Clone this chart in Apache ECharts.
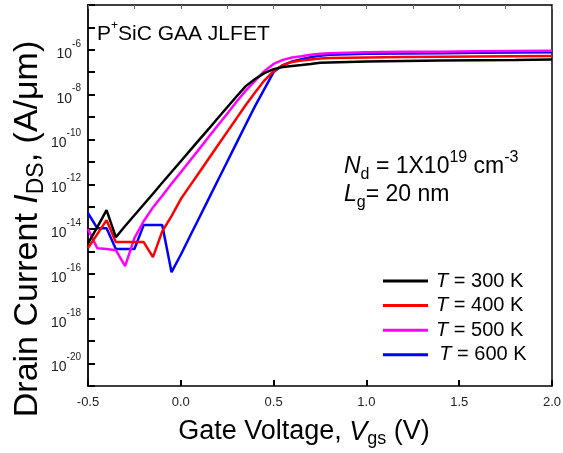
<!DOCTYPE html>
<html>
<head>
<meta charset="utf-8">
<script src="https://cdn.jsdelivr.net/npm/echarts@6/dist/echarts.min.js"></script>
<style>
  html, body { margin: 0; padding: 0; background: #fff; }
  #chart { width: 563px; height: 453px; }
</style>
</head>
<body>
<div id="chart"></div>
<script>
// Gate voltage sweep (V)
const vgs = [-0.5, -0.45, -0.4, -0.35, -0.3, -0.25, -0.2, -0.15, -0.1, -0.05,
  0, 0.05, 0.1, 0.15, 0.2, 0.25, 0.3, 0.35, 0.4, 0.45, 0.5, 0.55, 0.6, 0.65,
  0.7, 0.75, 0.8, 0.9, 1.0, 1.2, 1.4, 1.6, 1.8, 2.0];

// Drain current (A/um) at each temperature
const ids300 = [2.34e-15, 1.23e-14, 7.08e-14, 4.37e-15, 1.38e-14, 4.17e-14, 1.26e-13, 3.8e-13, 1.17e-12, 3.55e-12,
  1.07e-11, 3.24e-11, 9.8e-11, 2.95e-10, 9.1e-10, 2.75e-9, 8.3e-9, 2.4e-8, 5.0e-8, 9.1e-8, 1.38e-7, 1.7e-7, 1.9e-7, 2.09e-7,
  2.34e-7, 2.63e-7, 2.75e-7, 2.88e-7, 3.02e-7, 3.16e-7, 3.31e-7, 3.47e-7, 3.55e-7, 3.72e-7];
const ids400 = [1.41e-15, 6.0e-15, 2.51e-14, 2.63e-15, 2.63e-15, 2.63e-15, 2.63e-15, 5.6e-16, 7.9e-15, 3.8e-14,
  2.19e-13, 8.7e-13, 3.47e-12, 1.38e-11, 5.5e-11, 2.19e-10, 8.7e-10, 3.47e-9, 1.26e-8, 4.27e-8, 1.12e-7, 2.09e-7, 2.88e-7, 3.31e-7,
  3.72e-7, 4.07e-7, 4.27e-7, 4.47e-7, 4.57e-7, 4.79e-7, 4.9e-7, 5.0e-7, 5.13e-7, 5.25e-7];
const ids500 = [1.0e-14, 1.41e-15, 1.29e-15, 1.15e-15, 2.24e-16, 3.98e-15, 2.24e-14, 9.3e-14, 3.09e-13, 1.05e-12,
  3.47e-12, 1.15e-11, 3.8e-11, 1.29e-10, 4.27e-10, 1.41e-9, 4.79e-9, 1.51e-8, 4.07e-8, 1.12e-7, 2.34e-7, 3.55e-7, 4.57e-7, 5.13e-7,
  6.0e-7, 6.76e-7, 7.08e-7, 7.41e-7, 7.76e-7, 8.13e-7, 8.3e-7, 8.7e-7, 8.9e-7, 9.1e-7];
const ids600 = [5.1e-14, 1.1e-14, 1.1e-14, 1.29e-15, 1.29e-15, 1.29e-15, 1.51e-14, 1.51e-14, 1.51e-14, 1.2e-16,
  7.2e-16, 4.9e-15, 3.31e-14, 2.24e-13, 1.51e-12, 1.02e-11, 6.9e-11, 4.68e-10, 3.09e-9, 1.78e-8, 1.02e-7, 2.09e-7, 3.02e-7, 3.8e-7,
  4.68e-7, 5.5e-7, 6.0e-7, 6.3e-7, 6.6e-7, 6.9e-7, 7.08e-7, 7.41e-7, 7.59e-7, 7.76e-7];

// Current axis range and labelled decades (powers of ten)
const decadeMin = -21;
const decadeMax = -4;
const labelledDecades = [-20, -18, -16, -14, -12, -10, -8, -6];

const seriesNames = ['300 K', '400 K', '500 K', '600 K'];
const seriesData = [ids300, ids400, ids500, ids600];
const seriesColors = ['#000000', '#ff0000', '#ff00ff', '#0000ff'];

const FONT = '"Liberation Sans", Arial, sans-serif';

// The current axis is drawn in decades: each point is placed at log10(I).
function pairs(ys) {
  return vgs.map((v, i) => [v, Math.log10(ys[i])]);
}

function titleRich(size, lh) {
  const s = Math.round(size * 0.68);
  return {
    n: { fontSize: size, fontFamily: FONT, fill: '#000', lineHeight: lh, verticalAlign: 'middle' },
    i: { fontSize: size, fontFamily: FONT, fontStyle: 'italic', fill: '#000', lineHeight: lh, verticalAlign: 'middle' },
    sub: { fontSize: s, fontFamily: FONT, fill: '#000', lineHeight: lh, verticalAlign: 'bottom' },
    sup: { fontSize: s, fontFamily: FONT, fill: '#000', lineHeight: lh, verticalAlign: 'top' }
  };
}

const chart = echarts.init(document.getElementById('chart'), null, { renderer: 'canvas' });

const option = {
  animation: false,
  backgroundColor: '#ffffff',
  grid: { left: 88, right: 11, top: 5, bottom: 67, outerBoundsMode: 'none' },
  xAxis: [{
    type: 'value',
    min: -0.5, max: 2.0, interval: 0.5,
    axisLine: { show: true, onZero: false, lineStyle: { color: '#000', width: 1.5 } },
    axisTick: { show: true, inside: true, length: 6, lineStyle: { color: '#000', width: 2 } },
    axisLabel: {
      margin: 10, color: '#222', fontSize: 13, fontFamily: FONT,
      formatter: v => v.toFixed(1)
    },
    splitLine: { show: false }
  }, {
    type: 'value',
    position: 'top',
    min: -0.5, max: 2.0, interval: 0.25,
    axisLine: { show: true, onZero: false, lineStyle: { color: '#000', width: 1.5 } },
    axisTick: { show: true, inside: true, length: 4, lineStyle: { color: '#666', width: 1 } },
    axisLabel: { show: false },
    splitLine: { show: false }
  }],
  yAxis: [{
    type: 'value',
    min: decadeMin, max: decadeMax, interval: 1,
    axisLine: { show: true, onZero: false, lineStyle: { color: '#000', width: 1.8 } },
    axisTick: { show: true, inside: true, length: 7, lineStyle: { color: '#000', width: 2 } },
    splitLine: { show: false },
    axisLabel: {
      margin: 7,
      formatter: v => labelledDecades.includes(Math.round(v)) ? '{b|10}{s|' + Math.round(v) + '}' : '',
      rich: {
        b: { fontSize: 14, fontFamily: FONT, color: '#222', lineHeight: 22, verticalAlign: 'bottom' },
        s: { fontSize: 10, fontFamily: FONT, color: '#222', lineHeight: 22, verticalAlign: 'top' }
      }
    }
  }, {
    type: 'value',
    position: 'right',
    min: decadeMin, max: decadeMax,
    axisLine: { show: true, onZero: false, lineStyle: { color: '#000', width: 1.5 } },
    axisTick: { show: false },
    axisLabel: { show: false },
    splitLine: { show: false }
  }],
  legend: {
    orient: 'vertical',
    left: 383,
    top: 271,
    padding: 0,
    icon: 'rect',
    itemWidth: 45,
    itemHeight: 3,
    itemGap: 4.6,
    data: seriesNames,
    formatter: name => (name === '600 K' ? ' ' : '') + '{i|T}{n| = ' + name + '}',
    textStyle: {
      padding: [0, 0, 0, 3],
      rich: {
        i: { fontSize: 20, fontFamily: FONT, fontStyle: 'italic', color: '#000', lineHeight: 20 },
        n: { fontSize: 20, fontFamily: FONT, color: '#000', lineHeight: 20 }
      }
    }
  },
  graphic: [{
    // y-axis title
    type: 'text',
    x: 28, y: 229,
    rotation: Math.PI / 2,
    style: {
      text: '{n|Drain Current }{i|I}{sub|DS}{n|, (A/\u03bcm)}',
      align: 'center', verticalAlign: 'middle',
      rich: titleRich(34, 40)
    }
  }, {
    // x-axis title
    type: 'text',
    x: 304, y: 432,
    style: {
      text: '{n|Gate Voltage, }{i|V}{sub|gs}{n| (V)}',
      align: 'center', verticalAlign: 'middle',
      rich: titleRich(27, 32)
    }
  }, {
    type: 'text',
    left: 97, top: 20,
    style: {
      text: '{n|P}{s|+}{n|SiC GAA JLFET}',
      rich: {
        n: { fontSize: 21, fontFamily: FONT, fill: '#000', lineHeight: 25, verticalAlign: 'bottom' },
        s: { fontSize: 12, fontFamily: FONT, fill: '#000', lineHeight: 25, verticalAlign: 'top' }
      }
    }
  }, {
    type: 'text',
    left: 344, top: 150,
    style: {
      text: '{i|N}{sub|d}{n| = 1X10}{sup|19}{n| cm}{sup|-3}',
      rich: titleRich(23, 33)
    }
  }, {
    type: 'text',
    left: 344, top: 183,
    style: {
      text: '{i|L}{sub|g}{n|= 20 nm}',
      rich: titleRich(23, 33)
    }
  }],
  series: seriesNames.map((name, k) => ({
    name: name,
    type: 'line',
    xAxisIndex: 0,
    yAxisIndex: 0,
    data: pairs(seriesData[k]),
    showSymbol: false,
    symbol: 'none',
    smooth: false,
    color: seriesColors[k],
    lineStyle: { color: seriesColors[k], width: 2.5 },
    z: 10 - k
  }))
};

chart.setOption(option);
</script>
</body>
</html>
